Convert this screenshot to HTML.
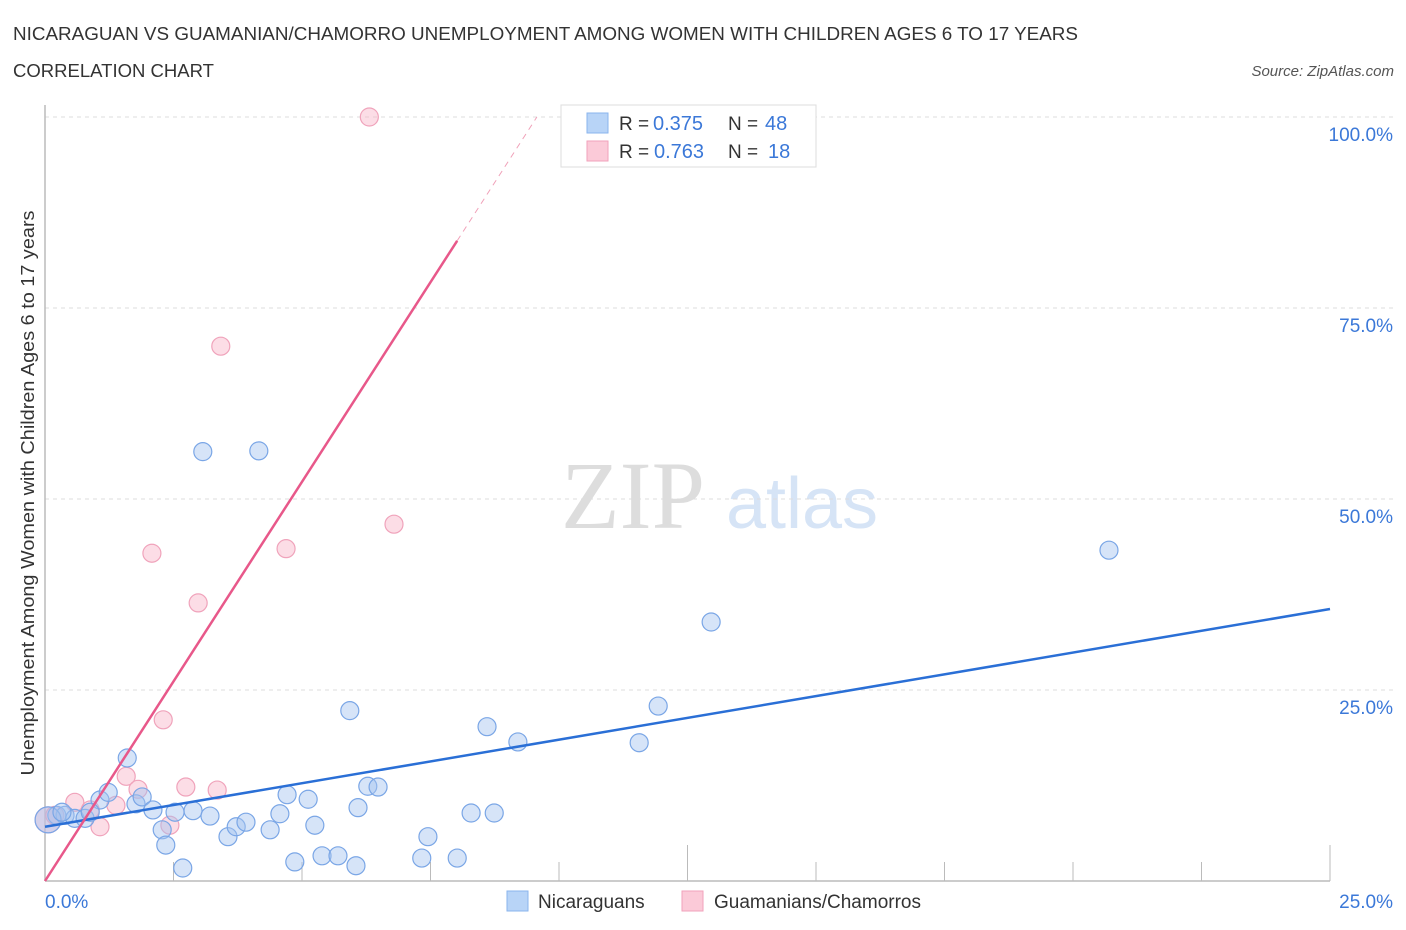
<!DOCTYPE html>
<html><head><meta charset="utf-8"><style>
body{margin:0;background:#fff;font-family:"Liberation Sans",sans-serif;}
svg{display:block}
</style></head><body>
<svg id="c" width="1406" height="930" xmlns="http://www.w3.org/2000/svg">
<text x="13" y="40" font-size="18" fill="#333" textLength="1065" lengthAdjust="spacingAndGlyphs">NICARAGUAN VS GUAMANIAN/CHAMORRO UNEMPLOYMENT AMONG WOMEN WITH CHILDREN AGES 6 TO 17 YEARS</text>
<text x="13" y="77" font-size="18" fill="#333" textLength="201" lengthAdjust="spacingAndGlyphs">CORRELATION CHART</text>
<text x="1394" y="76" font-size="15" fill="#555" font-style="italic" text-anchor="end">Source: ZipAtlas.com</text>
<text x="633" y="528" font-size="96" fill="#ddd" font-family="Liberation Serif,serif" text-anchor="middle">ZIP</text>
<text x="802" y="528" font-size="72" fill="#d6e4f6" text-anchor="middle">atlas</text>
<g id="grid"></g><g id="axes"></g><g id="marks"></g>
<text transform="translate(34,493) rotate(-90)" font-size="18" fill="#333" text-anchor="middle" textLength="565" lengthAdjust="spacingAndGlyphs">Unemployment Among Women with Children Ages 6 to 17 years</text>
<g>
<rect x="561" y="105" width="255" height="62" fill="#fff" stroke="#ddd"/>
<rect x="587" y="113" width="21" height="20" fill="#b8d4f7" stroke="#8ab4ee"/>
<rect x="587" y="141" width="21" height="20" fill="#fbcad8" stroke="#f2a2bb"/>
<text x="619" y="130" font-size="19" fill="#333">R =</text>
<text x="653" y="130" font-size="20" fill="#3b78d8">0.375</text>
<text x="728" y="130" font-size="19" fill="#333">N =</text>
<text x="765" y="130" font-size="20" fill="#3b78d8">48</text>
<text x="619" y="158" font-size="19" fill="#333">R =</text>
<text x="654" y="158" font-size="20" fill="#3b78d8">0.763</text>
<text x="728" y="158" font-size="19" fill="#333">N =</text>
<text x="768" y="158" font-size="20" fill="#3b78d8">18</text>
</g>
<g>
<rect x="507" y="891" width="21" height="20" fill="#b8d4f7" stroke="#8ab4ee"/>
<text x="538" y="908" font-size="19" fill="#333">Nicaraguans</text>
<rect x="682" y="891" width="21" height="20" fill="#fbcad8" stroke="#f2a2bb"/>
<text x="714" y="908" font-size="19" fill="#333">Guamanians/Chamorros</text>
</g>
</svg>
<script>
const xTickLabels=["0.0%","25.0%"];
const yTicks=[25,50,75,100];
const yTickLabels=["25.0%","50.0%","75.0%","100.0%"];
const blueX=[0.23,0.39,0.58,0.78,1.07,1.23,1.60,1.77,1.89,2.10,2.28,2.35,2.53,2.68,2.88,3.07,3.21,3.56,3.72,3.91,4.16,4.38,4.57,4.71,4.86,5.12,5.25,5.39,5.70,5.93,6.05,6.09,6.28,6.48,7.33,7.45,8.02,8.29,8.60,8.74,9.20,11.56,11.93,12.96,20.70,0.06,0.33,0.88];
const blueY=[8.6,8.6,8.2,8.2,10.6,11.6,16.1,10.1,11.0,9.3,6.7,4.7,9.0,1.7,9.2,56.2,8.5,5.8,7.1,7.7,56.3,6.7,8.8,11.3,2.5,10.7,7.3,3.3,3.3,22.3,2.0,9.6,12.4,12.3,3.0,5.8,3.0,8.9,20.2,8.9,18.2,18.1,22.9,33.9,43.3,8.0,9.0,9.0];
const pinkX=[0.06,0.19,0.58,0.88,1.07,1.38,1.58,1.81,2.08,2.30,2.43,2.74,2.98,3.35,3.42,4.69,6.31,6.79];
const pinkY=[8.0,8.6,10.3,9.3,7.1,9.9,13.7,12.0,42.9,21.1,7.3,12.3,36.4,11.9,70.0,43.5,100,46.7];
const blueFit=[7.1,35.6];
const pinkFit=[0,10.45];
const NS="http://www.w3.org/2000/svg";
const X0=45,X1=1330,Y0=881,Y100=117;
const sx=v=>X0+(v/25)*(X1-X0);
const sy=v=>Y0-(v/100)*(Y0-Y100);
function mk(t,a,p){const e=document.createElementNS(NS,t);for(const k in a)e.setAttribute(k,a[k]);p.appendChild(e);return e;}
const grid=document.getElementById('grid'),axes=document.getElementById('axes'),marks=document.getElementById('marks');
yTicks.forEach((t,i)=>{
 const g=mk('line',{x1:X0,x2:1395,y1:sy(t),y2:sy(t),stroke:'#ddd','stroke-dasharray':'4,4'},grid);
 
 
 const l=mk('text',{x:1393,y:sy(t)+24,'font-size':19,fill:'#3b78d8','text-anchor':'end'},axes);
 l.textContent=yTickLabels[i];
 
 
});
const xa=mk('line',{x1:X0,x2:X1,y1:Y0,y2:Y0,stroke:'#bbb','stroke-width':1.5},axes);


const ya=mk('line',{x1:X0,x2:X0,y1:105,y2:Y0,stroke:'#bbb','stroke-width':1.5},axes);


for(let i=1;i<=10;i++){
 const v=i*2.5;
 const tk=mk('line',{x1:sx(v),x2:sx(v),y1:(i%5==0)?845:862,y2:Y0,stroke:'#bbb'},axes);
 
 
}
[[0,'start',X0],[1,'end',1393]].forEach(([i,a,x])=>{
 const t=mk('text',{x:x,y:908,'font-size':19,fill:'#3b78d8','text-anchor':a},axes);
 t.textContent=xTickLabels[i];
 
 
});
function pts(xs,ys,fill,stroke,name){
 xs.forEach((x,i)=>{
  const r=(x<0.1)?13:9;
  const c=mk('circle',{cx:sx(x),cy:sy(ys[i]),r:r,fill:fill,stroke:stroke,'stroke-width':1.2},marks);
  
  
 });
}
pts(pinkX,pinkY,'rgba(248,180,200,0.45)','#f0a3bb','point-guamanian');
pts(blueX,blueY,'rgba(164,196,240,0.45)','#7aa6e6','point-nicaraguan');
const bl=mk('line',{x1:sx(0),y1:sy(blueFit[0]),x2:sx(25),y2:sy(blueFit[1]),stroke:'#2a6fd6','stroke-width':2.5},marks);


const xe=(83.8-pinkFit[0])/pinkFit[1], xd=(100-pinkFit[0])/pinkFit[1];
const pl=mk('line',{x1:sx(0),y1:sy(pinkFit[0]),x2:sx(xe),y2:sy(pinkFit[0]+pinkFit[1]*xe),stroke:'#e8588a','stroke-width':2.5},marks);


const pd=mk('line',{x1:sx(xe),y1:sy(pinkFit[0]+pinkFit[1]*xe),x2:sx(xd),y2:sy(100),stroke:'#f0a0b8','stroke-width':1,'stroke-dasharray':'6,5'},marks);


</script>
</body></html>
